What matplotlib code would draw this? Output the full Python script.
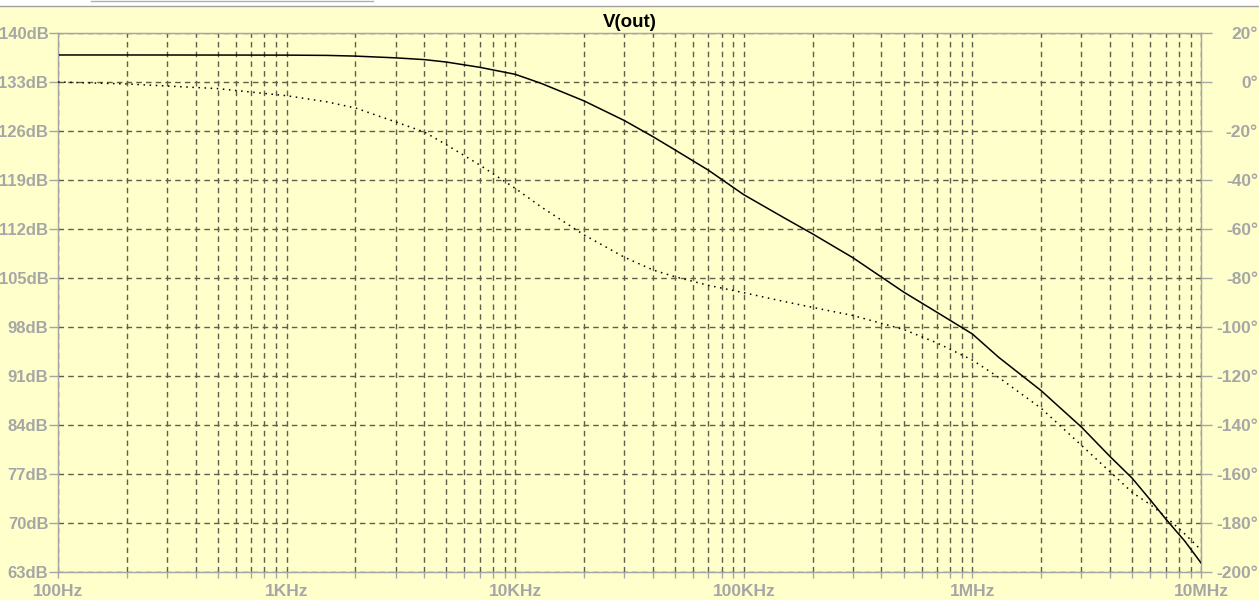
import matplotlib
matplotlib.use("Agg")
import matplotlib.pyplot as plt
from matplotlib.ticker import FixedLocator, LogLocator, NullFormatter
from matplotlib.patches import Rectangle
from matplotlib.lines import Line2D

# frequency points (Hz)
freq = [100, 200, 500, 1e3, 1.5e3, 2e3, 3e3, 4e3, 5e3, 7e3, 1e4, 1.3e4,
        2e4, 3e4, 4e4, 5e4, 7e4, 1e5, 1.5e5, 2e5, 3e5, 5e5, 7e5, 1e6,
        1.3e6, 2e6, 3e6, 4e6, 5e6, 6e6, 7e6, 8.5e6, 1e7]

# magnitude of V(out) in dB (solid line, left axis)
mag_db = [136.86, 136.86, 136.85, 136.84, 136.8, 136.7, 136.45, 136.2, 135.85,
          135.1, 134.1, 132.8, 130.3, 127.5, 125.2, 123.3, 120.4, 116.9, 113.6,
          111.3, 107.9, 103.0, 100.1, 97.0, 93.7, 88.9, 83.7, 79.5, 76.4,
          73.3, 70.6, 67.4, 64.3]

# phase of V(out) in degrees (dotted line, right axis)
phase_deg = [0.0, -0.8, -2.7, -5.6, -8.1, -10.6, -16.3, -20.4, -25.6, -33.9,
             -43.4, -51.0, -62.4, -71.5, -76.7, -79.5, -83.0, -86.0, -89.6,
             -92.0, -95.3, -101.0, -106.5, -113.5, -120.5, -133.2, -148.3,
             -159.1, -167.5, -172.5, -177.4, -184.5, -191.0]

db_ticks = [63, 70, 77, 84, 91, 98, 105, 112, 119, 126, 133, 140]
db_labels = [f"{v}dB" for v in db_ticks]
deg_ticks = [-200, -180, -160, -140, -120, -100, -80, -60, -40, -20, 0, 20]
deg_labels = [f"{v}°" for v in deg_ticks]
f_ticks = [100, 1e3, 1e4, 1e5, 1e6, 1e7]
f_labels = ["100Hz", "1KHz", "10KHz", "100KHz", "1MHz", "10MHz"]

bg = "#FFFFCC"
grey = "#A6A6A6"
gridc = "#5E5E4A"
fs = 12

plt.rcParams["font.family"] = ["Liberation Sans", "DejaVu Sans"]

fig = plt.figure(figsize=(12.59, 6.0), dpi=100, facecolor=bg)
W, H = 1259, 600
ax = fig.add_axes([58 / W, 1 - 572 / H, (1201 - 58) / W, (572 - 33) / H])
ax.set_facecolor(bg)

ax.plot(freq, mag_db, color="black", lw=1.1, zorder=3)
ax.set_xscale("log")
ax.set_xlim(100, 1e7)
ax.set_ylim(63, 140)

ax.xaxis.set_major_locator(FixedLocator(f_ticks))
ax.set_xticklabels(f_labels)
ax.xaxis.set_minor_locator(LogLocator(base=10, subs=range(2, 10), numticks=20))
ax.xaxis.set_minor_formatter(NullFormatter())
ax.set_yticks(db_ticks)
ax.set_yticklabels(db_labels)

ax.grid(True, which="both", axis="x", color=gridc, ls=(0, (4, 3)), lw=1)
ax.grid(True, which="major", axis="y", color=gridc, ls=(0, (4, 3)), lw=1)

ax.tick_params(axis="y", which="major", length=6.5, width=1, color=grey,
               labelcolor=grey, labelsize=fs, pad=0.5)
ax.tick_params(axis="x", which="both", length=4, width=1, color=grey,
               labelcolor=grey, labelsize=12.5, pad=5)
for lab in ax.get_yticklabels() + ax.get_xticklabels():
    lab.set_fontweight("bold")
for s in ax.spines.values():
    s.set_color(grey)
    s.set_linewidth(1)

ax2 = ax.twinx()
ax2.plot(freq, phase_deg, color="black", lw=1.1, ls=(0, (1, 3)), zorder=3)
ax2.set_ylim(-200, 20)
ax2.set_yticks(deg_ticks)
ax2.set_yticklabels(deg_labels)
ax2.tick_params(axis="y", length=8, width=1, color=grey, labelcolor=grey,
                labelsize=12.5, pad=33)
for lab in ax2.get_yticklabels():
    lab.set_fontweight("bold")
    lab.set_horizontalalignment("right")
for s in ax2.spines.values():
    s.set_color(grey)

ax.set_title("V(out)", fontsize=13.5, fontweight="bold", color="black", pad=4)

# window strip at the very top
fig.patches.append(Rectangle((0, 1 - 6 / H), 1, 6 / H, transform=fig.transFigure,
                             facecolor="white", edgecolor="none"))
fig.lines.append(Line2D([0, 1], [1 - 5.5 / H, 1 - 5.5 / H], transform=fig.transFigure,
                        color="#A0A0A0", lw=1))
fig.lines.append(Line2D([91 / W, 373 / W], [1 - 1 / H, 1 - 1 / H], transform=fig.transFigure,
                        color="#B0B0B0", lw=1))

fig.savefig("out.png", dpi=100, facecolor=bg)
